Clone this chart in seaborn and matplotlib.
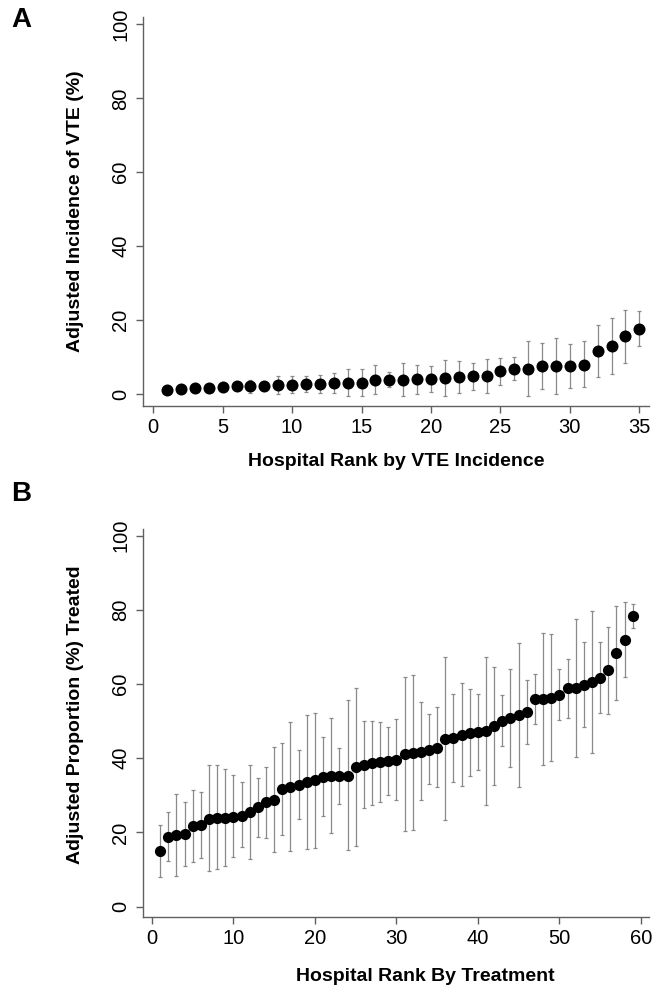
import numpy as np
import pandas as pd
import matplotlib
matplotlib.use("Agg")
import matplotlib.pyplot as plt
import seaborn as sns

# ---- Panel A data: VTE incidence by hospital rank ----
rank_a = list(range(1, 36))
vte_est = [1.2, 1.4, 1.7, 1.7, 1.8, 2.1, 2.2, 2.2, 2.4, 2.6,
           2.7, 2.8, 2.9, 3.05, 3.05, 3.95, 3.95, 3.95, 4.1, 4.1,
           4.4, 4.6, 4.8, 4.95, 6.2, 6.9, 6.9, 7.6, 7.6, 7.7,
           8.0, 11.7, 13.0, 15.6, 17.7]
vte_lo = [0.6, 0.8, 1.1, 1.1, 1.2, 1.4, 0.4, 1.4, 0.1, 0.3,
          0.5, 0.4, 0.2, -0.4, -0.4, 0.0, 1.9, -0.4, 0.1, 0.6,
          -0.4, 0.3, 1.25, 0.3, 2.6, 3.9, -0.4, 1.35, 0.0, 1.7,
          1.8, 4.75, 5.5, 8.4, 12.9]
vte_hi = [1.8, 2.0, 2.3, 2.3, 2.4, 2.8, 3.7, 3.0, 4.8, 5.0,
          4.8, 5.2, 5.6, 6.8, 6.7, 7.8, 6.1, 8.4, 7.9, 7.6,
          9.2, 8.9, 8.5, 9.6, 9.9, 10.0, 14.4, 13.9, 15.2, 13.5,
          14.3, 18.6, 20.5, 22.7, 22.5]

# ---- Panel B data: proportion treated by hospital rank ----
rank_b = list(range(1, 60))
trt_est = [15.0, 18.7, 19.3, 19.5, 21.75, 21.9, 23.7, 23.8, 23.9, 24.3,
           24.5, 25.5, 26.8, 28.2, 28.7, 31.8, 32.2, 32.8, 33.6, 34.1,
           35.0, 35.2, 35.2, 35.3, 37.6, 38.3, 38.7, 38.9, 39.2, 39.6,
           41.1, 41.4, 41.8, 42.2, 42.8, 45.1, 45.5, 46.4, 46.9, 47.1,
           47.4, 48.7, 50.1, 50.8, 51.7, 52.4, 56.0, 56.0, 56.3, 57.1,
           58.9, 58.9, 59.8, 60.6, 61.7, 63.7, 68.5, 72.0, 78.3]
trt_lo = [8.1, 12.4, 8.3, 11.1, 12.0, 13.2, 9.7, 10.1, 11.05, 13.4,
          16.0, 12.9, 18.8, 18.6, 14.7, 19.3, 15.1, 23.6, 15.6, 15.8,
          24.4, 19.8, 27.6, 15.3, 16.4, 26.5, 27.5, 28.2, 30.2, 28.8,
          20.3, 20.7, 28.8, 33.2, 32.2, 23.4, 33.7, 32.6, 35.2, 36.9,
          27.3, 32.7, 43.4, 37.7, 32.3, 43.8, 49.3, 38.1, 39.3, 50.3,
          50.9, 40.4, 48.4, 41.5, 52.1, 51.9, 55.8, 62.0, 75.0]
trt_hi = [22.0, 25.4, 30.5, 28.2, 31.5, 30.9, 38.1, 38.1, 37.2, 35.6,
          33.5, 38.3, 34.8, 37.7, 43.0, 44.2, 49.7, 42.2, 51.7, 52.3,
          45.7, 50.8, 42.9, 55.7, 58.9, 50.1, 50.1, 49.8, 48.4, 50.7,
          61.9, 62.5, 55.2, 51.9, 53.8, 67.2, 57.3, 60.4, 58.7, 57.2,
          67.3, 64.7, 57.1, 64.0, 71.1, 61.1, 62.6, 73.9, 73.6, 64.0,
          66.8, 77.5, 71.4, 79.7, 71.4, 75.3, 81.1, 82.0, 81.5]

y_ticks = [0, 20, 40, 60, 80, 100]
x_ticks_a = [0, 5, 10, 15, 20, 25, 30, 35]
x_ticks_b = [0, 10, 20, 30, 40, 50, 60]

sns.set_style("ticks")
plt.rcParams['font.family'] = ['Liberation Sans', 'DejaVu Sans']

fig = plt.figure(figsize=(6.52, 9.89), dpi=100)
ax_a = fig.add_axes([0.2193, 0.5895, 0.7761, 0.3933])
ax_b = fig.add_axes([0.2193, 0.0731, 0.7761, 0.3920])

AX_COL = '#606060'
BAR_COL = '#8a8a8a'


def draw(ax, x, est, lo, hi, ms, xticks, xlim, ylim, xlabel, ylabel,
         xpad, ypad):
    df = pd.DataFrame({'rank': x, 'est': est, 'lo': lo, 'hi': hi})
    ax.errorbar(df['rank'], df['est'],
                yerr=[df['est'] - df['lo'], df['hi'] - df['est']],
                fmt='none', ecolor=BAR_COL, elinewidth=0.9, capsize=1.3,
                capthick=0.9, zorder=1)
    sns.scatterplot(data=df, x='rank', y='est', ax=ax, color='black',
                    s=ms, edgecolor='black', linewidth=0, zorder=3)
    ax.set_xlim(*xlim)
    ax.set_ylim(*ylim)
    ax.set_xticks(xticks)
    ax.set_yticks(y_ticks)
    ax.set_yticklabels([str(t) for t in y_ticks], rotation=90, va='center')
    for sp in ['top', 'right']:
        ax.spines[sp].set_visible(False)
    for sp in ['left', 'bottom']:
        ax.spines[sp].set_color(AX_COL)
        ax.spines[sp].set_linewidth(1.0)
    ax.tick_params(axis='both', direction='out', length=5, width=1.0,
                   color=AX_COL, labelsize=14.5, labelcolor='black', pad=4)
    ax.set_xlabel(xlabel, fontsize=14, fontweight='bold', labelpad=xpad,
                  color='black')
    ax.set_ylabel(ylabel, fontsize=14, fontweight='bold', labelpad=ypad,
                  color='black')


draw(ax_a, rank_a, vte_est, vte_lo, vte_hi, 75, x_ticks_a,
     (-0.74, 35.7), (-3.2, 102.0),
     'Hospital Rank by VTE Incidence', 'Adjusted Incidence of VTE (%)',
     11, 20)
draw(ax_b, rank_b, trt_est, trt_lo, trt_hi, 65, x_ticks_b,
     (-1.1, 61.0), (-2.7, 101.8),
     'Hospital Rank By Treatment', 'Adjusted Proportion (%) Treated',
     17, 20)
# the B x-label sits right of centre in the original
ax_b.xaxis.set_label_coords(0.557, -0.132)
ax_b.yaxis.set_label_coords(-0.116, 0.52)

fig.text(21 / 652, 1 - 20 / 989, 'A', fontsize=20, fontweight='bold',
         ha='center', va='center', color='black')
fig.text(21 / 652, 1 - 494 / 989, 'B', fontsize=20, fontweight='bold',
         ha='center', va='center', color='black')

fig.savefig('out.png', dpi=100)
